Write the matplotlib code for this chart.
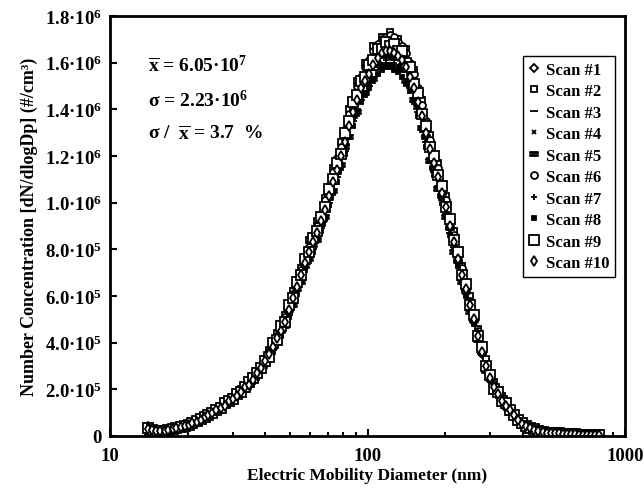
import matplotlib
matplotlib.use('Agg')
import matplotlib.pyplot as plt
from matplotlib.ticker import FixedLocator, FuncFormatter, LogLocator, NullFormatter

# SMPS bin midpoints (nm), shared by all scans
diameter = [14.1, 14.6, 15.1, 15.7, 16.3, 16.8, 17.5, 18.1, 18.8, 19.5,
            20.2, 20.9, 21.7, 22.5, 23.3, 24.1, 25.0, 25.9, 26.9, 27.9,
            28.9, 30.0, 31.1, 32.2, 33.4, 34.6, 35.9, 37.2, 38.5, 40.0,
            41.4, 42.9, 44.5, 46.1, 47.8, 49.6, 51.4, 53.3, 55.2, 57.3,
            59.4, 61.5, 63.8, 66.1, 68.5, 71.0, 73.7, 76.4, 79.1, 82.0,
            85.1, 88.2, 91.4, 94.7, 98.2, 101.8, 105.5, 109.4, 113.4, 117.6,
            121.9, 126.3, 131.0, 135.8, 140.7, 145.9, 151.2, 156.8, 162.5, 168.5,
            174.7, 181.1, 187.7, 194.6, 201.7, 209.1, 216.7, 224.7, 232.9, 241.4,
            250.3, 259.5, 269.0, 278.8, 289.0, 299.6, 310.6, 322.0, 333.8, 346.0,
            358.7, 371.8, 385.4, 399.5, 414.2, 429.4, 445.1, 461.4, 478.3, 495.8,
            514.0, 532.8, 552.3, 572.5, 593.5, 615.3, 637.8, 661.2, 685.4, 710.5,
            736.5, 763.5, 791.5]

# dN/dlogDp in units of 1e4 #/cm3
scan1 = [4.4, 2.1, 1.8, 2.3, 2.0, 2.7, 3.1, 3.2, 4.1, 4.6, 4.6, 5.7, 6.0, 7.3, 7.8, 9.4, 10, 11, 12, 14,
         14, 16, 18, 19, 20, 23, 24, 27, 29, 32, 34, 39, 41, 46, 48, 54, 58, 65, 68, 75,
         78, 83, 88, 91, 98, 102, 110, 113, 121, 125, 134, 138, 146, 147, 153, 154, 160, 160, 165, 164,
         167, 163, 164, 159, 158, 152, 151, 142, 138, 128, 124, 115, 112, 103, 99, 89, 84, 75, 70, 62,
         57, 49, 44, 35, 31, 24, 21, 18, 15, 13, 11, 8.6, 7.1, 5.1, 4.4, 3.2, 2.8, 2.1, 1.9, 1.4,
         1.4, 1.1, 1.2, 0.9, 1.0, 0.7, 0.8, 0.6, 0.5, 0.5, 0.4, 0.3, 0.3]
scan2 = [1.2, 2.9, 2.4, 1.9, 2.4, 2.6, 3.0, 3.6, 3.9, 4.5, 5.1, 5.5, 6.5, 7.1, 8.4, 9.2, 10, 11, 13, 14,
         15, 16, 18, 20, 21, 23, 25, 28, 30, 33, 37, 38, 44, 46, 52, 54, 62, 65, 72, 75,
         84, 84, 92, 94, 102, 105, 115, 116, 126, 128, 140, 141, 152, 151, 160, 158, 167, 165, 171, 169,
         173, 167, 170, 163, 166, 156, 157, 146, 144, 132, 129, 118, 117, 105, 103, 91, 88, 76, 73, 63,
         60, 50, 46, 36, 33, 25, 23, 18, 17, 13, 11, 9.0, 7.2, 5.5, 4.3, 3.4, 2.8, 2.3, 1.8, 1.6,
         1.3, 1.2, 1.1, 1.0, 0.9, 0.8, 0.7, 0.6, 0.6, 0.5, 0.4, 0.4, 0.3]
scan3 = [2.5, 2.3, 2.0, 1.8, 2.1, 2.3, 2.8, 3.3, 3.7, 4.2, 4.7, 5.2, 6.0, 6.8, 7.7, 8.7, 9.6, 10, 12, 13,
         14, 15, 17, 18, 20, 22, 24, 26, 28, 31, 33, 37, 40, 44, 47, 52, 57, 62, 66, 72,
         76, 80, 84, 89, 94, 100, 105, 111, 116, 122, 129, 135, 140, 144, 147, 150, 154, 157, 159, 160,
         160, 159, 158, 156, 153, 149, 145, 139, 132, 126, 119, 113, 107, 101, 95, 87, 81, 74, 67, 61,
         54, 49, 42, 35, 29, 24, 20, 17, 15, 13, 10, 8.5, 6.7, 5.1, 4.1, 3.2, 2.6, 2.1, 1.7, 1.5,
         1.3, 1.2, 1.0, 1.0, 0.9, 0.8, 0.7, 0.6, 0.5, 0.5, 0.4, 0.3, 0.3]
scan4 = [3.4, 2.7, 2.3, 2.1, 2.1, 2.6, 2.9, 3.5, 4.0, 4.3, 4.9, 5.4, 6.3, 7.1, 8.1, 9.1, 10, 11, 12, 13,
         15, 16, 17, 19, 21, 23, 25, 27, 29, 32, 35, 38, 42, 45, 50, 54, 59, 64, 69, 75,
         79, 84, 88, 92, 98, 104, 110, 115, 121, 127, 134, 140, 145, 150, 153, 157, 160, 163, 165, 166,
         167, 166, 164, 162, 159, 156, 150, 145, 138, 131, 124, 118, 112, 105, 99, 91, 84, 77, 70, 63,
         57, 51, 43, 36, 30, 25, 21, 18, 15, 13, 11, 8.9, 7.0, 5.4, 4.2, 3.3, 2.7, 2.2, 1.8, 1.5,
         1.3, 1.2, 1.1, 1.0, 0.9, 0.8, 0.7, 0.6, 0.6, 0.5, 0.4, 0.4, 0.3]
scan5 = [2.0, 2.5, 2.3, 1.9, 2.2, 2.4, 2.7, 3.4, 3.8, 4.1, 4.8, 5.2, 6.1, 6.8, 7.9, 8.8, 9.8, 11, 12, 13,
         14, 16, 17, 18, 20, 22, 24, 26, 29, 31, 33, 38, 40, 45, 47, 54, 56, 63, 66, 73,
         76, 82, 84, 91, 94, 102, 105, 113, 116, 124, 128, 137, 139, 147, 147, 153, 153, 159, 158, 163,
         159, 162, 157, 158, 152, 152, 144, 141, 132, 128, 118, 115, 106, 103, 94, 89, 79, 75, 66, 62,
         53, 50, 41, 36, 28, 25, 20, 18, 14, 13, 10, 8.6, 6.8, 5.2, 4.1, 3.2, 2.6, 2.2, 1.8, 1.5,
         1.3, 1.2, 1.1, 1.0, 0.9, 0.8, 0.7, 0.6, 0.5, 0.5, 0.4, 0.3, 0.3]
scan6 = [4.0, 2.8, 2.2, 2.1, 2.3, 2.6, 3.0, 3.6, 4.0, 4.5, 5.0, 5.6, 6.4, 7.3, 8.3, 9.3, 10, 11, 12, 14,
         15, 17, 18, 20, 21, 23, 25, 28, 30, 33, 36, 40, 43, 47, 51, 56, 61, 66, 71, 77,
         81, 86, 90, 95, 101, 107, 113, 119, 124, 131, 138, 144, 150, 154, 158, 161, 165, 168, 170, 171,
         172, 171, 169, 167, 164, 160, 155, 149, 142, 135, 127, 121, 115, 108, 101, 94, 86, 79, 72, 65,
         58, 52, 45, 37, 31, 25, 22, 19, 16, 14, 11, 9.1, 7.2, 5.5, 4.4, 3.4, 2.8, 2.3, 1.9, 1.6,
         1.4, 1.2, 1.1, 1.0, 0.9, 0.8, 0.7, 0.6, 0.6, 0.5, 0.4, 0.4, 0.3]
scan7 = [0.8, 2.4, 2.2, 2.0, 2.1, 2.5, 2.9, 3.3, 3.9, 4.3, 4.7, 5.4, 6.1, 7.0, 7.9, 8.9, 9.8, 11, 12, 13,
         14, 16, 17, 19, 20, 22, 24, 26, 28, 31, 35, 37, 42, 43, 50, 52, 59, 62, 69, 72,
         80, 81, 88, 90, 98, 100, 109, 111, 120, 123, 134, 136, 144, 145, 152, 151, 159, 158, 164, 161,
         165, 160, 163, 157, 158, 150, 150, 140, 137, 126, 123, 113, 111, 101, 99, 87, 84, 73, 70, 60,
         57, 48, 45, 35, 31, 23, 22, 17, 16, 12, 11, 8.7, 6.8, 5.2, 4.2, 3.3, 2.7, 2.2, 1.8, 1.5,
         1.3, 1.2, 1.1, 1.0, 0.9, 0.8, 0.7, 0.6, 0.5, 0.5, 0.4, 0.3, 0.3]
scan8 = [3.2, 2.2, 2.1, 1.8, 2.0, 2.4, 2.8, 3.2, 3.7, 4.1, 4.6, 5.2, 5.9, 6.7, 7.7, 8.6, 9.5, 10, 11, 13,
         14, 15, 17, 18, 20, 21, 23, 25, 28, 30, 33, 36, 40, 43, 47, 51, 56, 61, 66, 71,
         75, 79, 84, 88, 93, 99, 104, 109, 115, 121, 128, 133, 138, 143, 146, 149, 152, 155, 157, 158,
         158, 157, 156, 154, 151, 148, 143, 137, 131, 124, 118, 112, 106, 100, 94, 86, 80, 73, 66, 60,
         54, 48, 41, 35, 29, 24, 20, 17, 15, 12, 10, 8.4, 6.6, 5.1, 4.0, 3.2, 2.6, 2.1, 1.7, 1.4,
         1.2, 1.2, 1.1, 0.9, 0.9, 0.8, 0.7, 0.6, 0.5, 0.5, 0.4, 0.3, 0.3]
scan9 = [3.6, 2.7, 2.3, 2.1, 2.2, 2.6, 3.0, 3.5, 4.0, 4.4, 4.9, 5.5, 6.3, 7.1, 8.2, 9.2, 10, 11, 12, 14,
         15, 16, 18, 19, 21, 23, 25, 27, 29, 32, 34, 40, 41, 47, 49, 56, 59, 66, 69, 76,
         79, 85, 88, 94, 98, 106, 110, 117, 121, 130, 135, 143, 146, 152, 154, 159, 161, 166, 166, 169,
         167, 168, 165, 165, 160, 158, 151, 147, 138, 133, 124, 120, 112, 107, 98, 93, 84, 79, 69, 65,
         56, 52, 43, 38, 30, 26, 20, 19, 15, 14, 11, 9.0, 7.0, 5.4, 4.3, 3.4, 2.8, 2.2, 1.8, 1.5,
         1.3, 1.2, 1.1, 1.0, 0.9, 0.8, 0.7, 0.6, 0.6, 0.5, 0.4, 0.4, 0.3]
scan10 = [2.8, 2.5, 2.2, 2.0, 2.2, 2.5, 2.9, 3.4, 3.9, 4.3, 4.8, 5.4, 6.2, 7.0, 8.0, 9.0, 9.9, 11, 12, 13,
          15, 16, 17, 19, 21, 22, 24, 27, 29, 32, 35, 38, 42, 45, 49, 54, 59, 64, 69, 74,
          79, 83, 87, 92, 97, 103, 109, 114, 120, 126, 133, 139, 144, 149, 152, 155, 159, 162, 164, 165,
          165, 164, 163, 161, 158, 154, 149, 143, 137, 130, 123, 117, 111, 104, 98, 90, 83, 76, 69, 63,
          56, 50, 43, 36, 30, 25, 21, 18, 15, 13, 11, 8.8, 6.9, 5.3, 4.2, 3.3, 2.7, 2.2, 1.8, 1.5,
          1.3, 1.2, 1.1, 1.0, 0.9, 0.8, 0.7, 0.6, 0.6, 0.5, 0.4, 0.4, 0.3]

scans = [scan1, scan2, scan3, scan4, scan5, scan6, scan7, scan8, scan9, scan10]
labels = ['Scan #%d' % i for i in range(1, 11)]

y_ticks = [0, 2e5, 4e5, 6e5, 8e5, 1e6, 1.2e6, 1.4e6, 1.6e6, 1.8e6]

# marker, size, filled?
styles = [('D', 4, False), ('s', 5, False), ('_', 5.5, True), ('x', 3.5, True),
          ('$=$', 5.5, True), ('o', 5, False), ('+', 4.5, True), ('s', 3.5, True),
          ('s', 7, False), ('d', 5.5, False)]

plt.rcParams['font.family'] = ['Liberation Serif', 'DejaVu Serif']
plt.rcParams['font.weight'] = 'bold'
plt.rcParams['axes.labelweight'] = 'bold'
plt.rcParams['mathtext.fontset'] = 'custom'
plt.rcParams['mathtext.rm'] = 'Liberation Serif:bold'
plt.rcParams['mathtext.bf'] = 'Liberation Serif:bold'
plt.rcParams['mathtext.it'] = 'Liberation Serif:bold'


def sci_label(v, pos=None):
    if v == 0:
        return '0'
    e = 6 if v >= 1e6 else 5
    return '%.1f\u00b710$^{%d}$' % (v / 10 ** e, e)


fig = plt.figure(figsize=(6.44, 4.89), dpi=100)
ax = fig.add_axes([110 / 644, 52 / 489, 515 / 644, 420 / 489])

for vals, lab, (m, ms, filled) in zip(scans, labels, styles):
    y = [v * 1e4 for v in vals]
    ax.plot(diameter, y, linestyle='none', marker=m, markersize=ms,
            markeredgecolor='black', markeredgewidth=1.3,
            markerfacecolor='black' if filled else 'white', label=lab)

ax.set_xscale('log')
ax.set_xlim(10, 1000)
ax.set_ylim(0, 1.8e6)
ax.yaxis.set_major_locator(FixedLocator(y_ticks))
ax.yaxis.set_major_formatter(FuncFormatter(sci_label))
ax.xaxis.set_major_locator(LogLocator(base=10))
ax.xaxis.set_major_formatter(FuncFormatter(lambda v, p: '%d' % v))
ax.xaxis.set_minor_locator(LogLocator(base=10, subs=range(2, 10)))
ax.xaxis.set_minor_formatter(NullFormatter())

ax.tick_params(axis='both', which='major', direction='in', length=5, width=1.5,
               labelsize=13.5, pad=6)
ax.tick_params(axis='x', which='major', pad=8)
ax.tick_params(axis='x', which='minor', direction='in', length=3, width=1.5)
for sp in ax.spines.values():
    sp.set_linewidth(2)

ax.set_xlabel('Electric Mobility Diameter (nm)', fontsize=12.5, labelpad=2)
ax.set_ylabel('Number Concentration [dN/dlogDp] (#/cm\u00b3)', fontsize=13, labelpad=5)

xbar = r'$\overline{\mathbf{x}}$'
ax.text(0.074, 0.867, xbar + ' = 6.05\u00b710$^{7}$', transform=ax.transAxes,
        fontsize=14, va='baseline')
ax.text(0.074, 0.786, '\u03c3 = 2.23\u00b710$^{6}$', transform=ax.transAxes,
        fontsize=14, va='baseline')
ax.text(0.074, 0.707, '\u03c3 /  ' + xbar + ' = 3.7  %', transform=ax.transAxes,
        fontsize=14, va='baseline')

leg = ax.legend(loc='upper right', bbox_to_anchor=(0.981, 0.905), fontsize=12,
                frameon=True, fancybox=False, edgecolor='black', framealpha=1,
                handlelength=0.7, handletextpad=0.35, labelspacing=0.33, borderpad=0.35,
                borderaxespad=0)
leg.get_frame().set_linewidth(1.0)

fig.savefig('out.png', dpi=100)
